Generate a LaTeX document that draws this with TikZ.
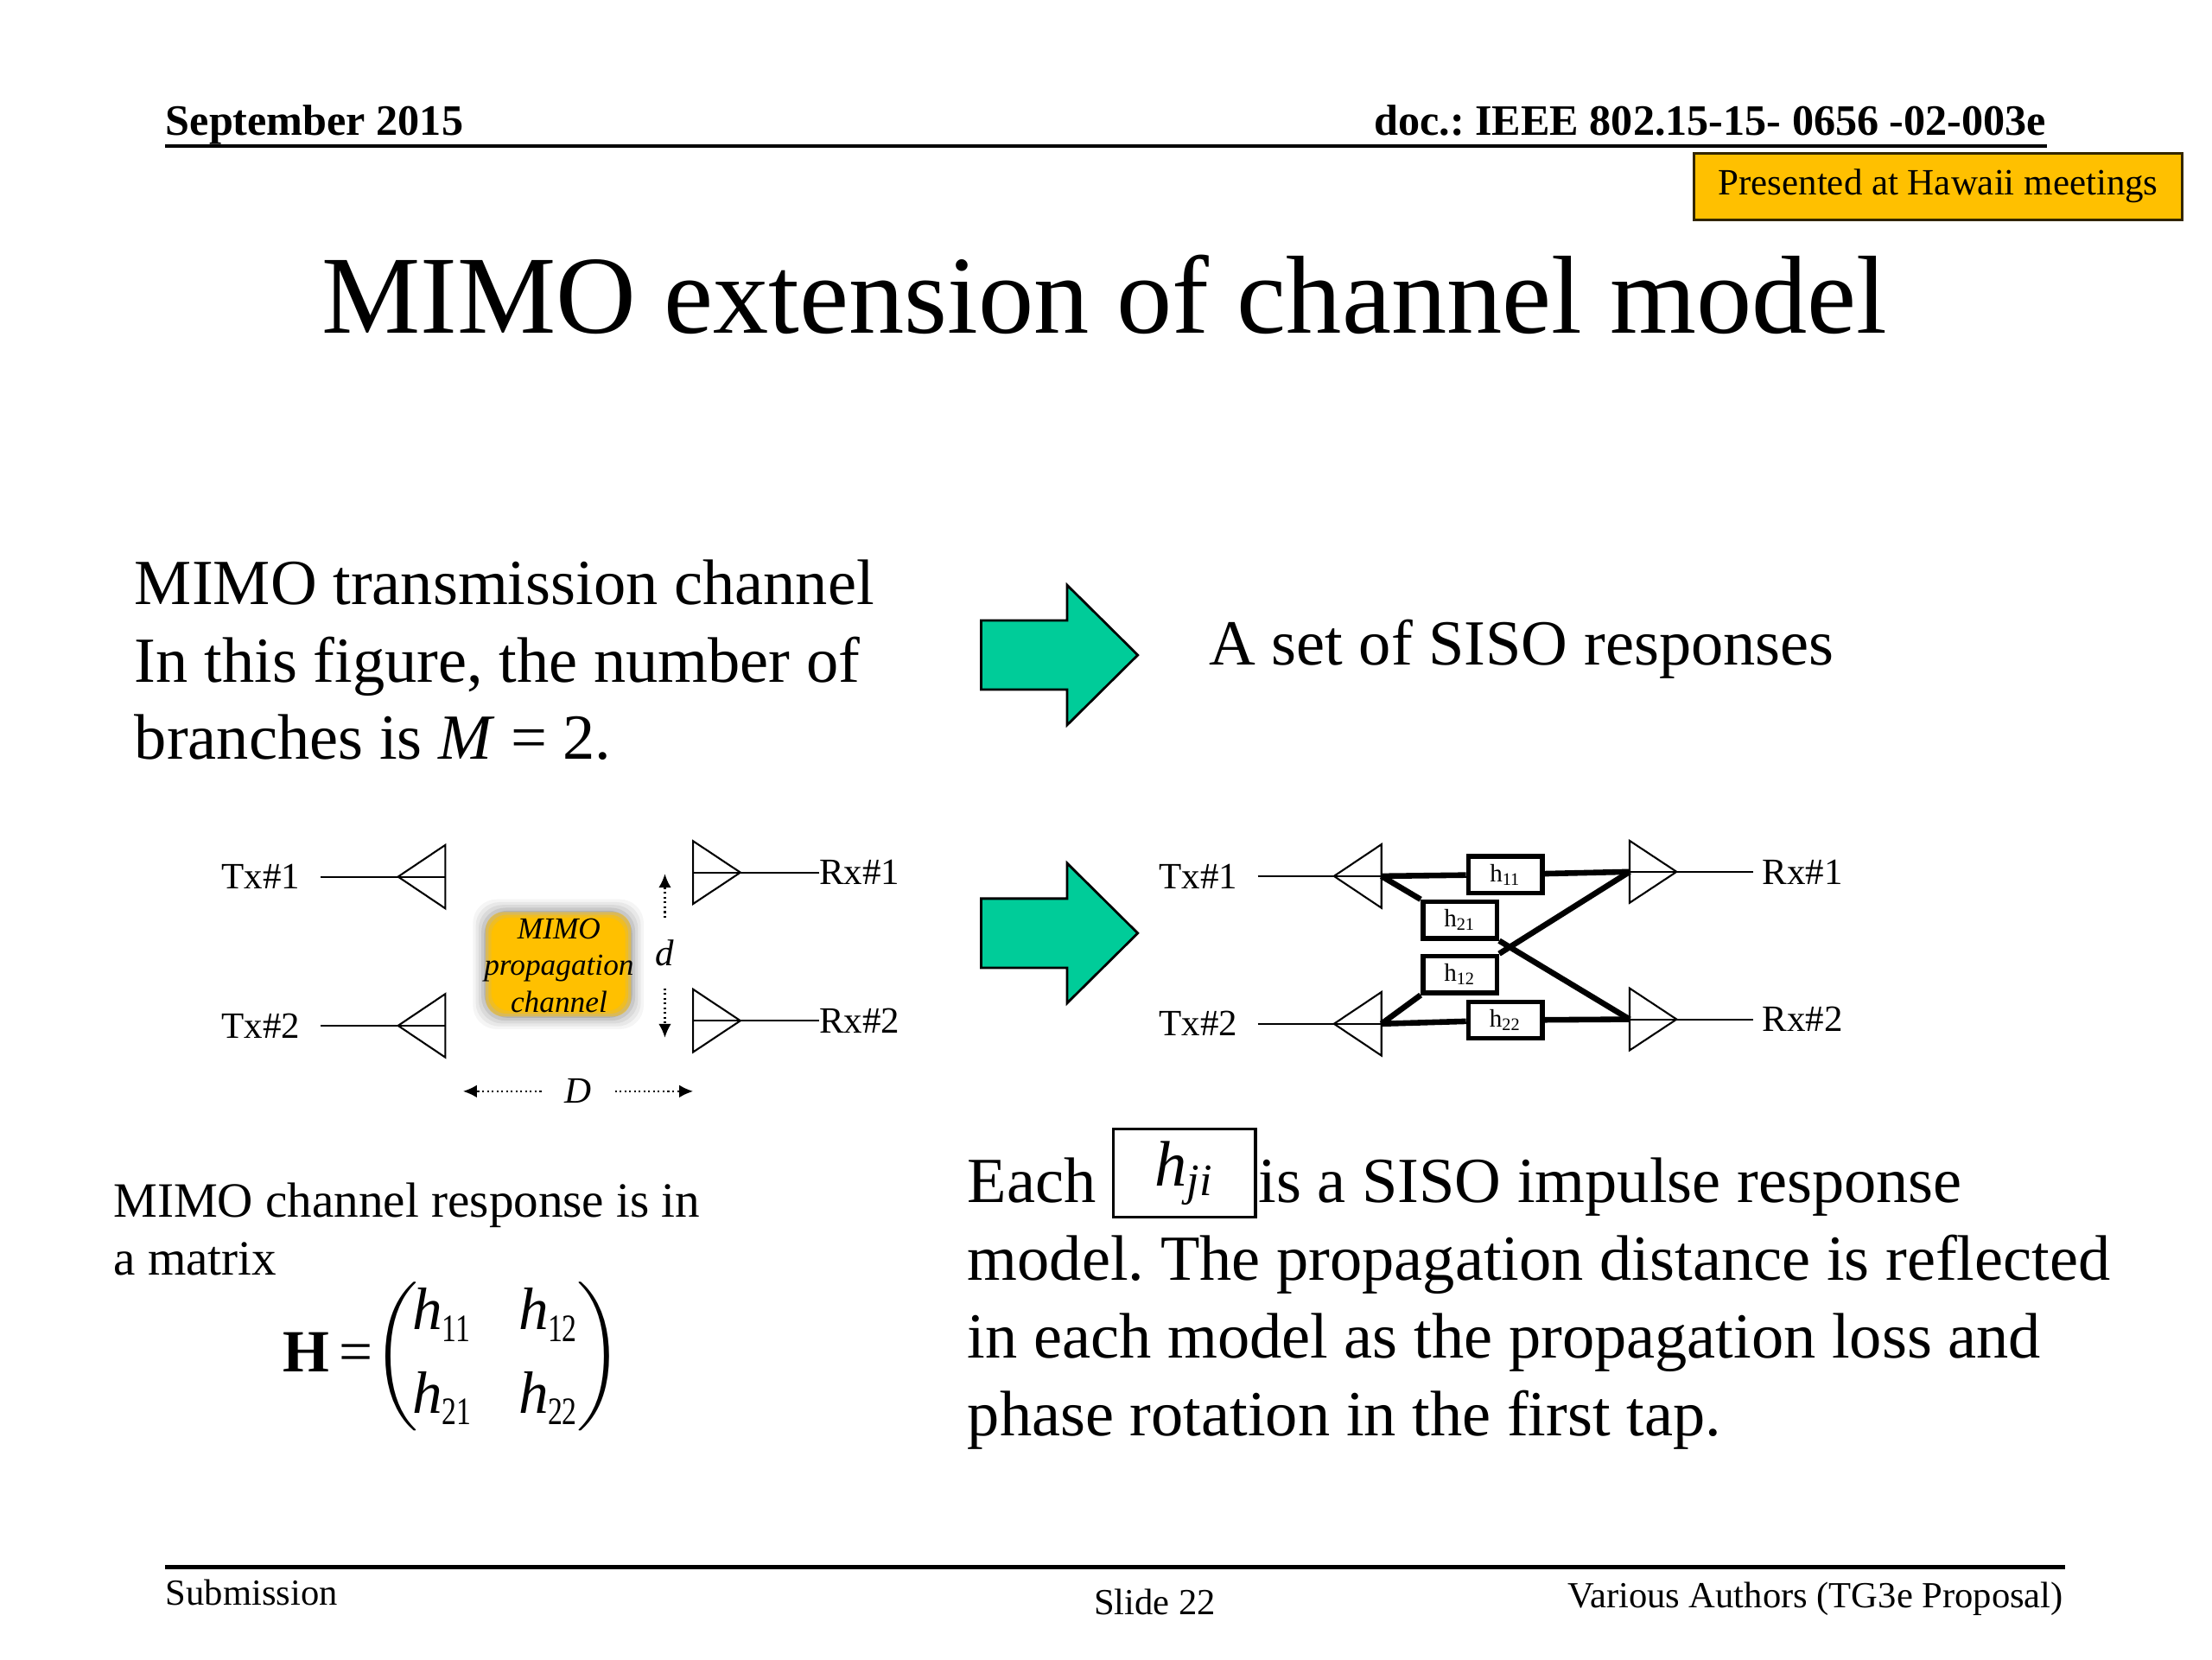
\documentclass[tikz,border=0pt]{standalone}
\usepackage{amsmath}
\usepackage{graphicx}
\usepackage{fontspec}
\setmainfont{Liberation Serif}
\usepackage{tikz}
\usetikzlibrary{calc,positioning,arrows,arrows.meta}
\definecolor{hawaii}{HTML}{FFC000}
\definecolor{siso}{HTML}{00CC99}
\newcommand{\hsub}[1]{\textit{h}\kern-0.3pt\raisebox{-4pt}{\scalebox{0.75}[1]{\fontsize{13}{13}\selectfont #1}}}
\frenchspacing

\begin{document}
\begin{tikzpicture}[x=0.0165922cm,y=-0.0165922cm,
	bodytxt/.style={font=\fontsize{21.5}{26}\selectfont,inner sep=0pt,anchor=base west},
	smalltxt/.style={font=\fontsize{16.5}{20}\selectfont,inner sep=0pt,anchor=base west},
	foottxt/.style={font=\fontsize{12.3}{15}\selectfont,inner sep=0pt},
	hdrtxt/.style={font=\fontsize{14.5}{17}\selectfont\bfseries,inner sep=0pt},
	lbl/.style={font=\fontsize{12.4}{15}\selectfont,inner sep=0pt},
	thinln/.style={line width=0.6pt},
	thickln/.style={line width=1.9pt},
	dotarr/.style={-{Latex[length=4.6pt,width=4.2pt]},densely dotted,line width=0.6pt},
	sisobox/.style={draw,line width=1.6pt,fill=white,minimum width=0.867cm,minimum height=0.43cm,inner sep=0pt,font=\fontsize{8.4}{9}\selectfont},
	bigarrow/.style={draw=black,line width=0.8pt,fill=siso}]

	\useasboundingbox (0,0) rectangle (1567,1175.25);
	\fill[white] (0,0) rectangle (1567,1175.25);

	% header
	\node[hdrtxt,anchor=base west] (date) at (117,96) {September 2015};
	\node[hdrtxt,anchor=base east] (docno) at (1450,96) {doc.: IEEE 802.15-15- 0656 -02-003e};
	\draw[line width=1.3pt] (117,103.5) -- (1450,103.5);
	\node[draw=black!80!hawaii,line width=0.9pt,fill=hawaii,minimum width=5.741cm,minimum height=0.78cm,font=\fontsize{12.4}{15}\selectfont] (hawaii) at (1373,132) {Presented at Hawaii meetings};
	\node[font=\fontsize{37.1}{44}\selectfont,inner sep=0pt,anchor=base] (title) at (782.5,236) {MIMO extension of channel model};

	\node[bodytxt] (mimo1) at (95,428) {MIMO transmission channel};
	\node[bodytxt] (mimo2) at (95,483) {In this figure, the number of};
	\node[bodytxt] (mimo3) at (95,538) {branches is \textit{M} = 2.};
	\node[bodytxt] (setsiso) at (856,471) {A set of SISO responses};

	\foreach \c in {464,661}
		\draw[bigarrow] (695,\c-24.5) -- (756,\c-24.5) -- (756,\c-49.5) -- (806,\c) -- (756,\c+49.5) -- (756,\c+24.5) -- (695,\c+24.5) -- cycle;

	% MIMO channel
	\foreach \n/\y in {1/621,2/726.5}{
		\draw[thinln] (282,\y) -- (315.5,\y-22.5) -- (315.5,\y+22.5) -- cycle;
		\coordinate (ltx\n) at (315.5,\y);
		\node[lbl,anchor=east] (ltxlab\n) at (213,\y) {Tx\#\n};
		\draw[thinln,shorten <=6.6pt] (ltxlab\n.east) -- (ltx\n);
	}
	\foreach \n/\y in {1/618,2/723}{
		\draw[thinln] (524.5,\y) -- (491,\y-22.25) -- (491,\y+22.25) -- cycle;
		\coordinate (lrx\n) at (491,\y);
		\node[lbl,anchor=west] (lrxlab\n) at (580,\y) {Rx\#\n};
		\draw[thinln] (lrx\n) -- (lrxlab\n.west);
	}
	\foreach \g/\o in {9/0.04,7/0.05,5/0.06,3/0.08,1/0.1}
		\fill[black,opacity=\o,rounded corners=8pt] (344-\g,646-\g) rectangle (447+\g,720+\g);
	\foreach \g/\o in {0/0.5,2/0.6,4/1}
		\fill[hawaii,opacity=\o,rounded corners=6pt] (344+\g,646+\g) rectangle (447-\g,720-\g);
	\node[font=\fontsize{10.2}{12.3}\selectfont\itshape,align=center,inner sep=0pt] (chan) at (396,684) {MIMO\\propagation\\channel};

	\node[lbl,font=\fontsize{12.4}{15}\selectfont\itshape,inner ysep=7.2pt] (dlab) at (471,675) {d};
	\coordinate (dtop) at (471,619);
	\coordinate (dbot) at (471,735);
	\draw[dotarr] (dlab) -- (dtop);
	\draw[dotarr] (dlab) -- (dbot);
	\node[lbl,font=\fontsize{12.4}{15}\selectfont\itshape,inner xsep=7.6pt] (Dlab) at (409.5,773) {D};
	\coordinate (dleft) at (328,773);
	\coordinate (dright) at (491,773);
	\draw[dotarr] (Dlab) -- (dleft);
	\draw[dotarr] (Dlab) -- (dright);

	% SISO responses
	\foreach \n/\y in {1/620.6,2/725.2}{
		\draw[thinln] (945,\y) -- (978.6,\y-22.5) -- (978.6,\y+22.5) -- cycle;
		\coordinate (rtx\n) at (978.6,\y);
		\node[lbl,anchor=east] (rtxlab\n) at (877,\y) {Tx\#\n};
		\draw[thinln,shorten <=6.6pt] (rtxlab\n.east) -- (rtx\n);
	}
	\foreach \n/\y in {1/617.5,2/722}{
		\draw[thinln] (1187.7,\y) -- (1154.4,\y-22) -- (1154.4,\y+22) -- cycle;
		\coordinate (rrx\n) at (1154.4,\y);
		\node[lbl,anchor=west] (rrxlab\n) at (1248,\y) {Rx\#\n};
		\draw[thinln,shorten >=2.8pt] (rrx\n) -- (rrxlab\n.west);
	}
	\node[sisobox] (h11) at (1066.4,619.5) {h\textsubscript{11}};
	\node[sisobox] (h21) at (1034.2,651.7) {h\textsubscript{21}};
	\node[sisobox] (h12) at (1034.2,690.2) {h\textsubscript{12}};
	\node[sisobox] (h22) at (1066.4,722.6) {h\textsubscript{22}};
	\draw[thickln] (rtx1) -- (h11) -- (rrx1);
	\draw[thickln] (rtx2) -- (h22) -- (rrx2);
	\draw[thickln] (rtx1) -- (h21.north west);
	\draw[thickln] (h21.south east) -- (rrx2);
	\draw[thickln] (rtx2) -- (h12.south west);
	\draw[thickln] (h12.north east) -- (rrx1);

	% matrix
	\node[smalltxt] (resp1) at (80,862) {MIMO channel response is in};
	\node[smalltxt] (resp2) at (80,903) {a matrix};
	\node[inner sep=0pt,anchor=base west,font=\fontsize{20}{24}\selectfont] (Hmat) at (200,972) {\textbf{H}\,=$\left(\begin{array}{@{\hspace{-2pt}}l@{\hspace{16pt}}l@{}}\hsub{11} & \hsub{12}\\[4pt]\hsub{21} & \hsub{22}\end{array}\right)$};

	\node[bodytxt] (each) at (685,852) {Each};
	\node[draw,line width=1pt,minimum width=1.667cm,minimum height=1.033cm,inner sep=0pt,font=\fontsize{21.5}{26}\selectfont] (hji) at (839,831) {\textit{h}\textsubscript{\textit{ji}}};
	\node[bodytxt] (siso1) at (891,852) {is a SISO impulse response};
	\node[bodytxt] (siso2) at (685,907) {model. The propagation distance is reflected};
	\node[bodytxt] (siso3) at (685,962) {in each model as the propagation loss and};
	\node[bodytxt] (siso4) at (685,1017) {phase rotation in the first tap.};

	% footer
	\draw[line width=1.2pt] (117,1110) -- (1463,1110);
	\node[foottxt,anchor=base west] (submis) at (117,1137) {Submission};
	\node[foottxt,anchor=base] (slide) at (818,1144) {Slide 22};
	\node[foottxt,anchor=base east] (authors) at (1462,1139) {Various Authors (TG3e Proposal)};
\end{tikzpicture}
\end{document}
